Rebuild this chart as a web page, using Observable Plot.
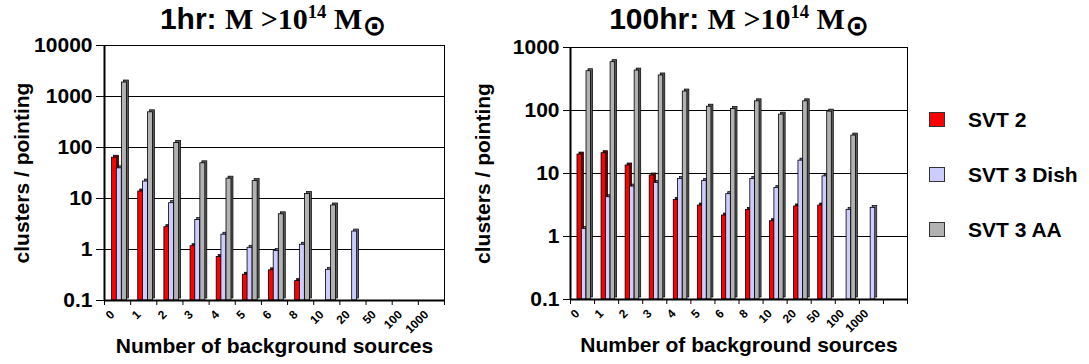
<!DOCTYPE html>
<html>
<head>
<meta charset="utf-8">
<script src="https://cdn.jsdelivr.net/npm/d3@7"></script>
<script src="https://cdn.jsdelivr.net/npm/@observablehq/plot@0.6"></script>
<style>
  body { margin: 0; background: #fff; width: 1089px; height: 364px; position: relative; overflow: hidden;
         font-family: "Liberation Sans", Arial, sans-serif; color: #000; }
  .title { position: absolute; top: 2px; font-weight: bold; font-size: 30px; line-height: 34px;
           white-space: nowrap; transform: translateX(-50%); }
  .title .serif { font-family: "Liberation Serif", "Times New Roman", serif; }
  .title sup { font-size: 0.62em; vertical-align: 0.6em; line-height: 0; }
  .title sub { font-size: 0.95em; vertical-align: -0.22em; line-height: 0; font-family: "DejaVu Sans", sans-serif; font-weight: bold; }
  .panel { position: absolute; top: 34px; }
  .legend { position: absolute; left: 929px; top: 92px; font-weight: bold; font-size: 21px; }
  .legend .item { display: flex; align-items: center; height: 55px; }
  .legend .sw { width: 14px; height: 13px; border: 1px solid #333; margin-right: 23px; }
</style>
</head>
<body>
<div class="title" style="left:273px"><span>1hr: </span><span class="serif">M &gt;10<sup>14</sup> M<sub>⊙</sub></span></div>
<div class="title" style="left:739px"><span>100hr: </span><span class="serif">M &gt;10<sup>14</sup> M<sub>⊙</sub></span></div>
<div id="left" class="panel" style="left:0px"></div>
<div id="right" class="panel" style="left:460px"></div>
<div class="legend" id="legend"></div>
<script>
// ---- data ----
const seriesNames = ["SVT 2", "SVT 3 Dish", "SVT 3 AA"];
const seriesColors = ["#ff0000", "#ccccff", "#b2b2b2"];
const seriesSide = ["#700000", "#6a6a9a", "#5a5a5a"];

const categories1hr = ["0", "1", "2", "3", "4", "5", "6", "8", "10", "20", "50", "100", "1000"];
const svt2_1hr = [63, 13.7, 2.74, 1.16, 0.71, 0.32, 0.39, 0.24, null, null, null, null, null];
const dish_1hr = [39, 21.5, 8.1, 3.8, 1.95, 1.08, 0.93, 1.24, 0.40, 2.25, null, null, null];
const aa_1hr = [1880, 490, 123, 49, 24.5, 21.9, 4.9, 12.3, 7.3, null, null, null, null];
const yTicks1hr = [0.1, 1, 10, 100, 1000, 10000];

const categories100hr = ["0", "1", "2", "3", "4", "5", "6", "8", "10", "20", "50", "100", "1000", ""];
const svt2_100hr = [20, 21, 13.4, 9.3, 3.8, 3.1, 2.15, 2.65, 1.75, 3.0, 3.1, null, null, null];
const dish_100hr = [1.32, 4.2, 6.2, 7.1, 8.2, 7.6, 4.7, 8.2, 5.9, 16, 9, 2.65, 2.85, null];
const aa_100hr = [420, 585, 430, 360, 200, 115, 106, 140, 86, 140, 96, 40, null, null];
const yTicks100hr = [0.1, 1, 10, 100, 1000];

const xTitle = "Number of background sources";
const yTitle = "clusters / pointing";

// ---- layout within a category band (fractions of the band) ----
const seriesOffset = [0.29, 0.47, 0.665];
const barWidth = 0.19;

function panel(categories, series, yTicks, opts) {
  const n = categories.length;
  const yBase = yTicks[0];
  const rows = [];
  series.forEach((vals, s) => vals.forEach((v, i) => {
    if (v != null) rows.push({i, s, v, x1: i + seriesOffset[s], x2: i + seriesOffset[s] + barWidth});
  }));
  const barMarks = [];
  for (let s = 0; s < series.length; s++) {
    const d = rows.filter(r => r.s === s);
    barMarks.push(Plot.rect(d, {x1: "x1", x2: "x2", y1: () => yBase, y2: "v", fill: seriesSide[s], stroke: "#000", strokeWidth: 0.7, dx: 2, dy: -2}));
    barMarks.push(Plot.rect(d, {x1: "x1", x2: "x2", y1: () => yBase, y2: "v", fill: seriesColors[s], stroke: "#000", strokeWidth: 0.8}));
  }
  return Plot.plot({
    width: 455,
    height: 330,
    marginLeft: opts.marginLeft,
    marginRight: opts.marginRight,
    marginTop: opts.marginTop,
    marginBottom: opts.marginBottom,
    style: {fontFamily: "'Liberation Sans', Arial, sans-serif", fontWeight: "bold", color: "#000", background: "transparent", overflow: "visible"},
    x: {type: "linear", domain: [0, n], axis: null},
    y: {type: "log", domain: [yBase, yTicks[yTicks.length - 1]], axis: null},
    marks: [
      Plot.gridY(yTicks, {stroke: "#000", strokeOpacity: 1, strokeWidth: 1}),
      Plot.frame({stroke: "#000", strokeWidth: 1}),
      ...barMarks,
      Plot.ruleY([yBase], {stroke: "#000", strokeWidth: 2}),
      Plot.ruleX([0], {stroke: "#000", strokeWidth: 2}),
      Plot.axisY(yTicks, {tickSize: opts.tickSize, tickPadding: 4, tickFormat: d => String(d), fontSize: 21, fontWeight: "bold", label: null, stroke: "#000"}),
      Plot.axisX(d3.range(n + 1), {tickSize: 5, tickFormat: () => "", label: null, stroke: "#000"}),
      Plot.axisX(d3.range(n).map(i => i + 0.5), {tickSize: 0, tickPadding: 12, tickRotate: -45, dx: -5,
        tickFormat: v => categories[Math.floor(v)], fontSize: 12, fontWeight: "bold", label: null}),
      Plot.text([xTitle], {frameAnchor: "bottom", dy: 52, text: d => d, fontSize: 21, fontWeight: "bold"}),
      Plot.text([yTitle], {frameAnchor: "left", textAnchor: "middle", dx: opts.yTitleDx, rotate: -90, text: d => d, fontSize: 21, fontWeight: "bold"})
    ]
  });
}

document.getElementById("left").append(panel(categories1hr, [svt2_1hr, dish_1hr, aa_1hr], yTicks1hr,
  {marginLeft: 104, marginRight: 11, marginTop: 11, marginBottom: 64, tickSize: 8, yTitleDx: -82}));
document.getElementById("right").append(panel(categories100hr, [svt2_100hr, dish_100hr, aa_100hr], yTicks100hr,
  {marginLeft: 110, marginRight: 8, marginTop: 13, marginBottom: 65, tickSize: 7, yTitleDx: -87}));

const legend = document.getElementById("legend");
seriesNames.forEach((name, s) => {
  const item = document.createElement("div");
  item.className = "item";
  const sw = document.createElement("div");
  sw.className = "sw";
  sw.style.background = seriesColors[s];
  const label = document.createElement("span");
  label.textContent = name;
  item.append(sw, label);
  legend.append(item);
});
</script>
</body>
</html>
